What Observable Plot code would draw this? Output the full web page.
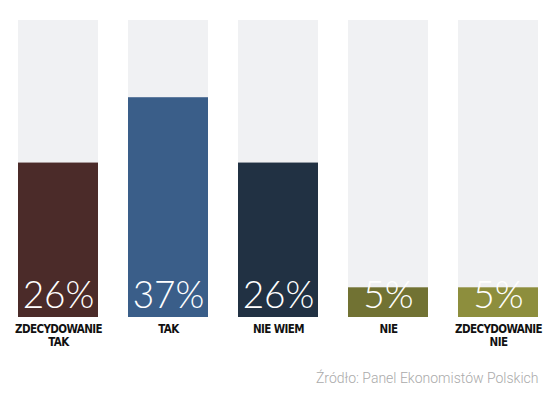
<!DOCTYPE html>
<html>
<head>
<meta charset="utf-8">
<script src="https://cdn.jsdelivr.net/npm/d3@7"></script>
<script src="https://cdn.jsdelivr.net/npm/@observablehq/plot@0.6"></script>
<style>
  html, body { margin: 0; padding: 0; background: #fff; }
  svg { display: block; }
</style>
</head>
<body>
<div id="chart"></div>
<script>
const categories = ["ZDECYDOWANIE\nTAK", "TAK", "NIE WIEM", "NIE", "ZDECYDOWANIE\nNIE"];
const values = [26, 37, 26, 5, 5];
const colors = ["#4b2b29", "#3a5e89", "#213143", "#717233", "#8d8e3d"];
const maxValue = 50;
const source = "Źródło: Panel Ekonomistów Polskich";

const data = categories.map((c, i) => ({cat: c, value: values[i], color: colors[i]}));

const chart = Plot.plot({
  width: 557,
  height: 399,
  marginTop: 20,
  marginBottom: 82,
  marginLeft: 18,
  marginRight: 19,
  x: {domain: categories, paddingInner: 30 / 110, paddingOuter: 0, label: null},
  y: {domain: [0, maxValue], axis: null},
  marks: [
    Plot.barY(data, {x: "cat", y: () => maxValue, fill: "#f0f1f3"}),
    Plot.barY(data, {x: "cat", y: "value", fill: "color"}),
    Plot.text(data, {
      x: "cat", y: 0, text: d => d.value + "%",
      fill: "white", fontSize: 37, fontWeight: 300,
      fontFamily: "Lato", lineAnchor: "bottom", dy: -10
    }),
    Plot.axisX({
      tickSize: 0, tickPadding: 6, fontSize: 11.5, lineHeight: 1.15,
      fontWeight: "bold", fontFamily: "'DejaVu Sans Condensed', 'DejaVu Sans', sans-serif",
      fill: "#111", label: null
    }),
    Plot.text([source], {
      frameAnchor: "bottom-right", text: d => d, dy: 65,
      fill: "#aaa", fontSize: 14, fontWeight: 300, fontFamily: "Roboto"
    })
  ]
});
chart.querySelectorAll("g[aria-label='x-axis tick label'] text").forEach(t => {
  t.setAttribute("letter-spacing", "-0.6");
});
document.getElementById("chart").append(chart);
</script>
</body>
</html>
